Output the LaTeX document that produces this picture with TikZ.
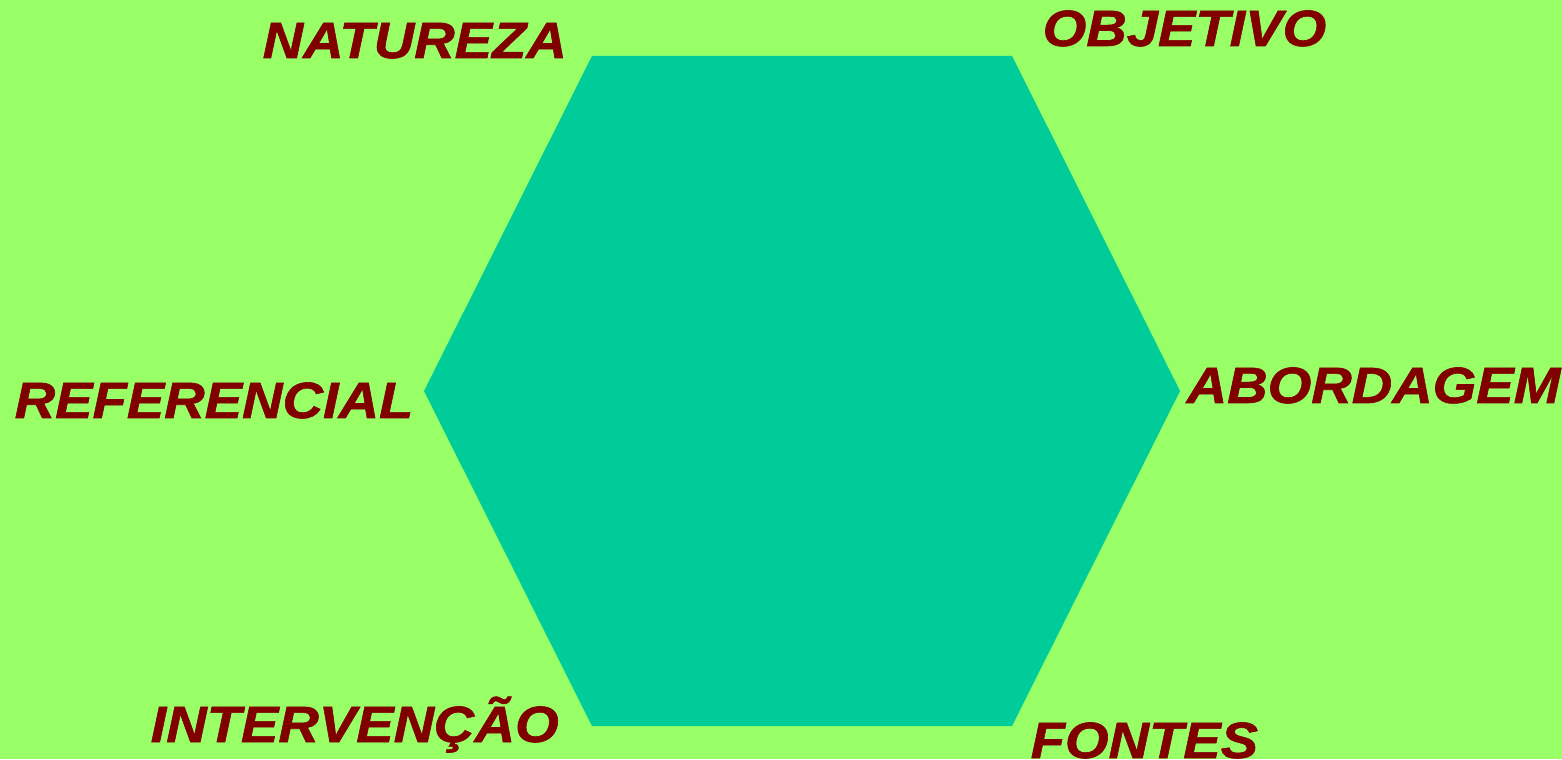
\documentclass[tikz,border=0pt]{standalone}
\usepackage{fontspec}
\setmainfont{Liberation Sans}
\newfontfamily\labelfont[FakeStretch=1.1,FakeBold=1.2]{Liberation Sans Bold Italic}
\usepackage{tikz}
\usetikzlibrary{positioning}
\definecolor{bgcol}{HTML}{99FF66}
\definecolor{hexcol}{HTML}{00CC99}
\definecolor{txtcol}{HTML}{800000}
\tikzset{lbl/.style={inner sep=0pt,anchor=base west,text=txtcol,font=\labelfont\fontsize{14.5pt}{16pt}\selectfont}}

\begin{document}
\begin{tikzpicture}
  \useasboundingbox (0,0) rectangle (15.62,7.59);
  \clip (0,0) rectangle (15.62,7.59);
  \fill[bgcol] (0,0) rectangle (15.62,7.59);
  \fill[hexcol] (5.92,7.03) -- (10.12,7.03) -- (11.80,3.68) -- (10.12,0.33) -- (5.92,0.33) -- (4.24,3.68) -- cycle;
  \node[lbl] (natureza) at (2.62,7.01) {NATUREZA};
  \node[lbl] (objetivo) at (10.42,7.13) {OBJETIVO};
  \node[lbl] (referencial) at (0.14,3.41) {REFERENCIAL};
  \node[lbl] (abordagem) at (11.86,3.56) {ABORDAGEM};
  \node[lbl] (intervencao) at (1.50,0.17) {INTERVENÇÃO};
  \node[lbl] (fontes) at (10.30,0.01) {FONTES};
\end{tikzpicture}
\end{document}
